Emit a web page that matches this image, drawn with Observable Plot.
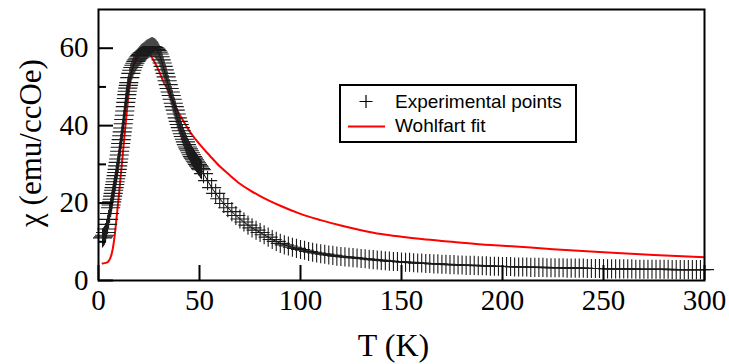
<!DOCTYPE html>
<html><head><meta charset="utf-8">
<script src="https://cdn.jsdelivr.net/npm/d3@7"></script>
<script src="https://cdn.jsdelivr.net/npm/@observablehq/plot@0.6"></script>
<style>
html,body{margin:0;padding:0;background:#fff;}
#chart{position:relative;width:729px;height:364px;overflow:hidden;}
#legend{position:absolute;left:339px;top:84px;}
</style></head><body><div id="chart"></div>
<script>
// Experimental points (T in K, chi in emu/ccOe)
const tempLow = [2,2.5,3,3.5,4,4.5,5,5.5,
  6,6.25,6.5,6.75,7,7.25,7.5,7.75,8,8.25,8.5,8.75,9,9.25,9.5,9.75,10,10.25,10.5,10.75,11,11.25,11.5,11.75,12,12.25,12.5,12.75,13,13.25,13.5,13.75,14,14.25,14.5,14.75,15,
  15.5,16,16.5,17,17.5,18,18.5,19,19.5,20,
  20.5,21,21.5,22,22.5,23,23.5,24,24.5,25,25.5,26,26.5,27,27.5,28,28.5,29,29.5,30,
  30.5,31,31.5,32,32.5,33,33.5,34,34.5,35,35.5,36,36.5,37,37.5,38,38.5,39,39.5,40,
  40.5,41,41.5,42,42.5,43,43.5,44,44.5,45,45.5,46,46.5,47,47.5,48,48.5,49,49.5,50,50.5,51];
const chiLow = [11.0,11.3,11.7,12.4,13.3,14.5,15.8,17.3,
  18.8,19.5,20.3,21.0,21.8,22.5,23.3,24.0,24.8,25.5,26.3,27.1,27.9,28.7,29.6,30.5,31.4,32.4,33.4,34.4,35.4,36.4,37.4,38.4,39.4,40.5,41.6,42.7,43.8,44.9,46.0,47.0,48.0,48.9,49.7,50.4,51.1,
  52.4,53.5,54.3,55.0,55.6,56.1,56.6,57.0,57.4,57.8,
  58.1,58.4,58.7,58.9,59.1,59.3,59.5,59.7,59.9,60.0,60.2,60.3,60.4,60.3,60.2,60.0,59.7,59.4,59.0,58.5,
  57.8,57.0,56.2,55.3,54.4,53.5,52.6,51.6,50.6,49.6,48.7,47.8,46.8,45.8,44.9,44.0,43.0,42.0,41.1,40.3,
  39.5,38.7,37.9,37.2,36.5,35.8,35.1,34.5,34.0,33.5,33.0,32.5,32.0,31.6,31.2,30.8,30.4,30.0,29.6,29.3,28.9,28.6];
const tempHigh = [52,54,56,58,60,62,64,66,68,70,72,74,76,78,80,82,84,86,88,90,92,94,96,98,
  100,102,104,106,108,110,112,114,116,118,120,122,124,126,128,130,132,134,136,138,140,142,144,146,148,150,
  152,154,156,158,160,162,164,166,168,170,172,174,176,178,180,182,184,186,188,190,192,194,196,198,200,
  202,204,206,208,210,212,214,216,218,220,222,224,226,228,230,232,234,236,238,240,242,244,246,248,250,
  252,254,256,258,260,262,264,266,268,270,272,274,276,278,280,282,284,286,288,290,292,294,296,298,300];
const chiHigh = [27.6,25.8,24.0,22.5,21.1,19.9,18.8,17.8,16.8,15.9,15.1,14.3,13.6,13.0,12.4,11.8,11.2,10.6,10.1,9.6,9.2,8.9,8.6,8.3,
  8.0,7.8,7.5,7.3,7.1,6.9,6.8,6.6,6.5,6.3,6.2,6.1,6.0,5.9,5.8,5.7,5.6,5.5,5.4,5.3,5.2,5.1,5.0,4.9,4.9,4.8,
  4.7,4.7,4.6,4.5,4.5,4.4,4.4,4.3,4.3,4.2,4.2,4.1,4.1,4.0,4.0,3.9,3.9,3.9,3.8,3.8,3.8,3.7,3.7,3.7,3.6,
  3.6,3.6,3.5,3.5,3.5,3.5,3.4,3.4,3.4,3.4,3.3,3.3,3.3,3.3,3.3,3.2,3.2,3.2,3.2,3.2,3.1,3.1,3.1,3.1,3.1,
  3.0,3.0,3.0,3.0,3.0,3.0,3.0,2.9,2.9,2.9,2.9,2.9,2.9,2.9,2.9,2.9,2.8,2.8,2.8,2.8,2.8,2.8,2.8,2.8,2.8];

// Wohlfart fit
const fitTemp = [2,4,5,6,7,8,9,10,11,12,13,14,15,16,17,18,19,20,21,22,23,24,25,26,28,30,32,34,36,38,40,42,45,48,50,55,60,65,70,75,80,90,100,110,120,130,140,150,160,175,190,200,225,250,275,300];
const fitChi = [4.4,4.6,5.0,6.0,8.0,11.5,16.5,21.5,27.0,32.5,38.0,43.5,48.5,52.5,55.0,56.8,58.0,58.9,59.5,59.8,59.8,59.5,58.9,58.0,56.2,54.0,51.5,49.5,47.3,45.0,43.0,41.2,38.6,36.5,35.2,32.3,29.5,27.2,25.0,23.3,21.8,19.3,17.2,15.6,14.2,13.0,12.0,11.3,10.7,10.0,9.3,9.0,8.1,7.3,6.6,6.0];

const xTicks = [0,50,100,150,200,250,300];
const yMajor = [0,20,40,60];
const yMinor = [10,30,50];
const xLabel = "T (K)";
const yLabel = "\u03C7 (emu/ccOe)";
const legendLabels = ["Experimental points","Wohlfart fit"];

const exp = tempLow.map((t,i)=>({t, chi: chiLow[i]})).concat(tempHigh.map((t,i)=>({t, chi: chiHigh[i]})));
const fit = fitTemp.map((t,i)=>({t, chi: fitChi[i]}));

const W = 729, H = 364, mL = 98, mR = 25, mT = 9, mB = 84;
const innerW = W - mL - mR, innerH = H - mT - mB;

const chart = Plot.plot({
  width: W, height: H, marginLeft: mL, marginRight: mR, marginTop: mT, marginBottom: mB,
  style: {fontFamily: "'Liberation Serif', 'Times New Roman', serif", fontSize: "29px", background: "#fff", color: "#000"},
  x: {domain: [0, 300]},
  y: {domain: [0, 70]},
  marks: [
    Plot.line(fit, {x: "t", y: "chi", stroke: "#ff0000", strokeWidth: 2, curve: "monotone-x"}),
    Plot.line(exp, {x: "t", y: "chi", stroke: "#000", strokeWidth: 1}),
    Plot.dot(exp, {x: "t", y: "chi", symbol: "plus", r: 6.2, stroke: "#1a1a1a", strokeWidth: 1.1}),
    Plot.tickY(yMajor, {y: d => d, insetRight: innerW - 15, stroke: "#000", strokeWidth: 2}),
    Plot.tickY(yMinor, {y: d => d, insetRight: innerW - 8, stroke: "#000", strokeWidth: 2}),
    Plot.tickX(xTicks, {x: d => d, insetTop: innerH - 15, stroke: "#000", strokeWidth: 2}),
    Plot.frame({stroke: "#000", strokeWidth: 2}),
    Plot.axisX(xTicks, {tickSize: 0, tickPadding: 9, fontSize: 29, label: null}),
    Plot.axisY(yMajor, {tickSize: 0, tickPadding: 10, fontSize: 29, label: null}),
    Plot.text([yLabel], {text: d => d, frameAnchor: "left", textAnchor: "middle", lineAnchor: "middle", rotate: -90, dx: -67, dy: -2, fontSize: 31}),
    Plot.text([xLabel], {text: d => d, frameAnchor: "bottom", textAnchor: "middle", lineAnchor: "top", dx: -8, dy: 53, fontSize: 32})
  ]
});
document.getElementById("chart").appendChild(chart);

// Legend overlay (inside plot area)
const lg = d3.select("#chart").append("svg").attr("id", "legend").attr("width", 240).attr("height", 60);
lg.append("rect").attr("x", 1).attr("y", 1).attr("width", 236).attr("height", 57).attr("fill", "#fff").attr("stroke", "#000").attr("stroke-width", 2);
lg.append("path").attr("d", "M20.5,17.5h13M27,11v13").attr("stroke", "#000").attr("stroke-width", 1.2).attr("fill", "none");
lg.append("line").attr("x1", 9).attr("x2", 46).attr("y1", 42.5).attr("y2", 42.5).attr("stroke", "#ff0000").attr("stroke-width", 2);
lg.selectAll("text.l").data(legendLabels).join("text").attr("class", "l")
  .attr("x", 56).attr("y", (d, i) => 24 + i * 23.5)
  .attr("font-family", "'Liberation Sans', Arial, sans-serif").attr("font-size", 19).attr("fill", "#000")
  .text(d => d);
</script></body></html>
